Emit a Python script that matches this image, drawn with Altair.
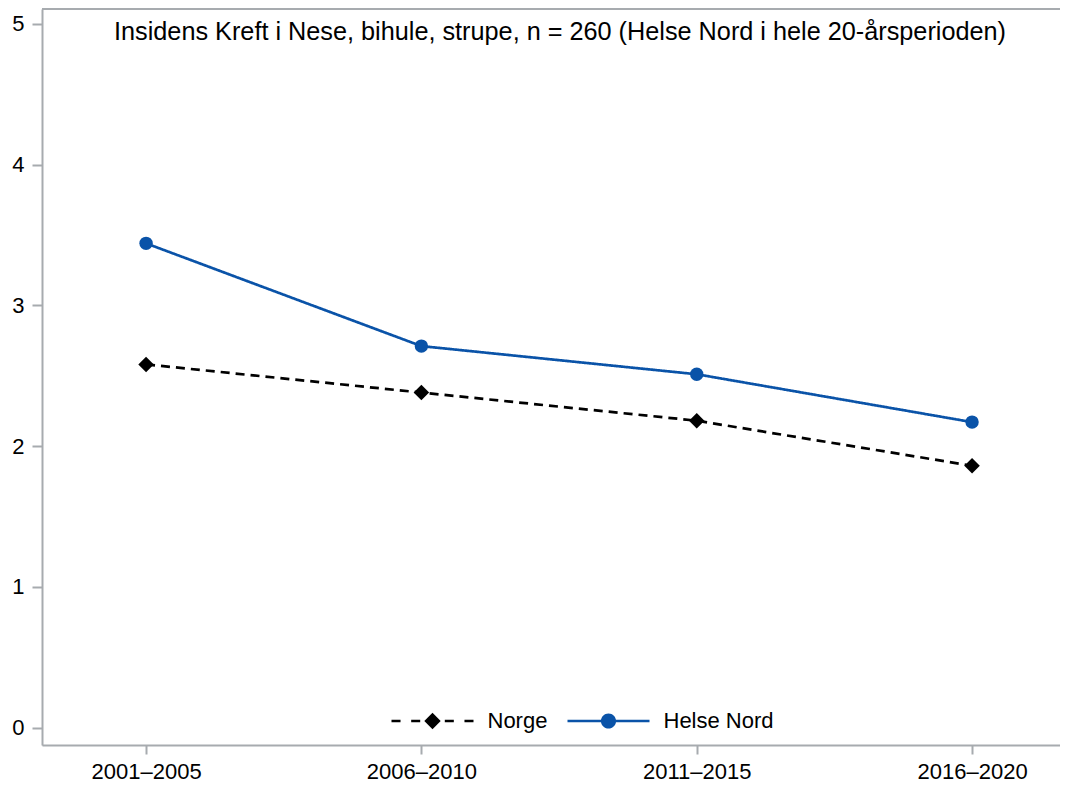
import altair as alt
import pandas as pd

periods = ["2001–2005", "2006–2010", "2011–2015", "2016–2020"]
norge = [2.58, 2.38, 2.18, 1.86]
helse_nord = [3.44, 2.71, 2.51, 2.17]
series = ["Norge", "Helse Nord"]
colors = ["#000000", "#0a53a8"]
title_text = "Insidens Kreft i Nese, bihule, strupe, n = 260 (Helse Nord i hele 20-årsperioden)"

rows = []
for p, v in zip(periods, norge):
    rows.append({"periode": p, "verdi": v, "serie": "Norge"})
for p, v in zip(periods, helse_nord):
    rows.append({"periode": p, "verdi": v, "serie": "Helse Nord"})
df = pd.DataFrame(rows)
df["leg_norge"] = df["serie"]
df["leg_hn"] = df["serie"]

W, H = 1018, 736
FONT = "Liberation Sans"
AX = "#a7abaf"
SYM = 82 * 82
LEG_Y = 671

norge_path = ("M-1,-0.03H-0.78V0.03H-1Z"
              "M-0.52,-0.03H-0.3V0.03H-0.52Z"
              "M0.3,-0.03H0.52V0.03H0.3Z"
              "M0.78,-0.03H1V0.03H0.78Z"
              "M0,-0.2L0.2,0L0,0.2L-0.2,0Z")
hn_path = ("M-1,-0.032H-0.15V0.032H-1Z"
           "M0.15,-0.032H1V0.032H0.15Z"
           "M-0.185,0A0.185,0.185 0 1,1 0.185,0A0.185,0.185 0 1,1 -0.185,0Z")

x_enc = alt.X("periode:N", sort=periods, title=None,
              scale=alt.Scale(type="point", padding=0.3487, align=0.542),
              axis=alt.Axis(labelAngle=0, labelFontSize=22, labelFont=FONT, labelColor="#000",
                            tickSize=9, tickColor=AX, tickWidth=2, domainColor=AX, domainWidth=2,
                            labelPadding=7, grid=False))
y_enc = alt.Y("verdi:Q", title=None,
              scale=alt.Scale(domain=[-0.124, 5.105], nice=False, zero=False),
              axis=alt.Axis(values=[0, 1, 2, 3, 4, 5], format="d", labelFontSize=22,
                            labelFont=FONT, labelColor="#000", tickSize=10, tickColor=AX,
                            tickWidth=2, domainColor=AX, domainWidth=2, labelPadding=8,
                            grid=False))
color_scale = alt.Scale(domain=series, range=colors)


def leg(x, path, col):
    return alt.Legend(title=None, orient="none", direction="horizontal",
                      legendX=x, legendY=LEG_Y, labelFontSize=22, labelFont=FONT,
                      labelColor="#000", symbolSize=SYM, symbolType=path,
                      symbolFillColor=col, symbolStrokeWidth=0, symbolOpacity=1,
                      labelOffset=14, padding=0)


lines = alt.Chart(df).mark_line(strokeWidth=2.7).encode(
    x=x_enc, y=y_enc,
    color=alt.Color("serie:N", scale=color_scale, legend=None),
    strokeDash=alt.StrokeDash("serie:N", scale=alt.Scale(domain=series, range=[[9, 6], [1, 0]]),
                              legend=None),
)

pts_norge = alt.Chart(df).transform_filter(alt.datum.serie == "Norge").mark_point(
    filled=True, shape="diamond", size=240, color=colors[0]
).encode(
    x=alt.X("periode:N", sort=periods),
    y="verdi:Q",
    opacity=alt.Opacity("leg_norge:N", scale=alt.Scale(domain=["Norge"], range=[1]),
                        legend=leg(349.5, norge_path, colors[0])),
)

pts_hn = alt.Chart(df).transform_filter(alt.datum.serie == "Helse Nord").mark_point(
    filled=True, shape="circle", size=180, color=colors[1]
).encode(
    x=alt.X("periode:N", sort=periods),
    y="verdi:Q",
    opacity=alt.Opacity("leg_hn:N", scale=alt.Scale(domain=["Helse Nord"], range=[1]),
                        legend=leg(525.5, hn_path, colors[1])),
)

top_border = alt.Chart(df).mark_rule(color=AX, strokeWidth=2).encode(
    x=alt.value(0), x2=alt.value(W), y=alt.value(0)
)

title_mark = alt.Chart(pd.DataFrame({"t": [title_text]})).mark_text(
    font=FONT, fontSize=25.25, color="#000", align="center", baseline="alphabetic"
).encode(text="t:N", x=alt.value(W / 2 + 9), y=alt.value(31))

chart = alt.layer(top_border, lines, pts_norge, pts_hn, title_mark).resolve_scale(
    opacity="independent"
).resolve_legend(opacity="independent").properties(
    width=W, height=H,
    autosize=alt.AutoSizeParams(type="none"),
    padding={"left": 34, "top": 1, "right": 0, "bottom": 37},
).configure_view(stroke=None).configure(background="white")

chart.save("out.html", embed_options={"renderer": "svg", "actions": False})
